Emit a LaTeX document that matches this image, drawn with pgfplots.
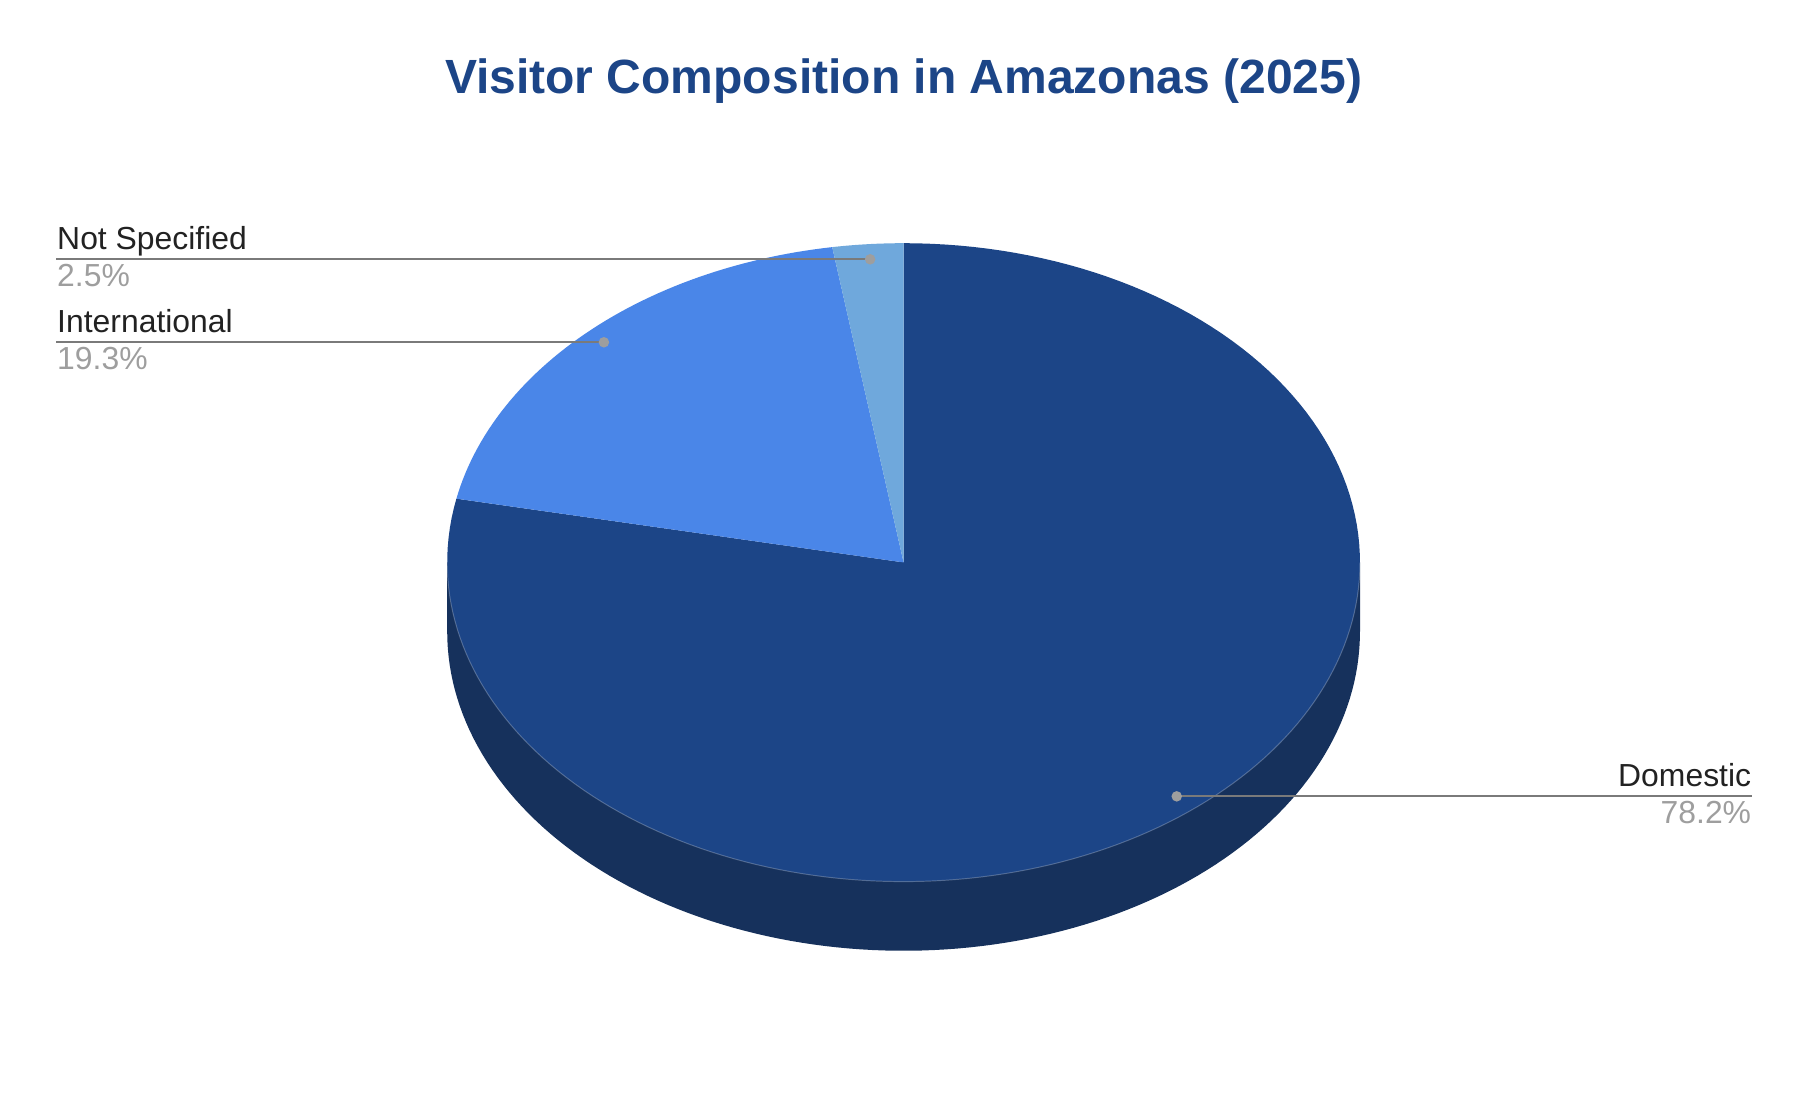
\documentclass[border=0pt]{standalone}
\usepackage{pgfplots}
\pgfplotsset{compat=1.18}
\usepackage{fontspec}
\setmainfont{Liberation Sans}

\definecolor{domtop}{HTML}{1C4587}
\definecolor{domside}{HTML}{16315C}
\definecolor{intl}{HTML}{4A86E8}
\definecolor{notsp}{HTML}{6FA8DC}
\definecolor{titlec}{HTML}{1C4587}
\definecolor{leader}{HTML}{7A7A7A}
\definecolor{pctc}{HTML}{9E9E9E}
\definecolor{labc}{HTML}{222222}

% shares in percent
\def\vDom{78.2}
\def\vInt{19.3}
\def\vNot{2.5}

\begin{document}
\begin{tikzpicture}[
    lbl/.style={font=\fontsize{8.3}{10}\selectfont, text=labc, inner sep=0pt},
    pct/.style={font=\fontsize{8.3}{10}\selectfont, text=pctc, inner sep=0pt},
]
\pgfmathsetmacro\aA{3.6*\vDom}
\pgfmathsetmacro\aB{3.6*(\vDom+\vInt)}
\pgfmathsetmacro\aC{3.6*(\vDom+\vInt+\vNot)}
\begin{axis}[
    scale only axis,
    width=470.1pt, height=288.4pt,
    xmin=0, xmax=1567, ymin=0, ymax=961.4,
    y dir=reverse,
    hide axis,
    clip=false,
]
\path (rel axis cs:0,0) rectangle (rel axis cs:1,1);

% side wall (front half, all Domestic)
\addplot[fill=domside, draw=none, domain=90:270, samples=120]
    ({784+396*sin(x)},{548-277*cos(x)}) -- (axis cs:388,488) -- (axis cs:1180,488) -- cycle;

% top faces
\addplot[fill=domtop, draw=none, domain=0:\aA, samples=160]
    ({784+396*sin(x)},{488-277*cos(x)}) -- (axis cs:784,488) -- cycle;
\addplot[fill=intl, draw=none, domain=\aA:\aB, samples=60]
    ({784+396*sin(x)},{488-277*cos(x)}) -- (axis cs:784,488) -- cycle;
\addplot[fill=notsp, draw=none, domain=\aB:\aC, samples=20]
    ({784+396*sin(x)},{488-277*cos(x)}) -- (axis cs:784,488) -- cycle;

% faint rim between top and wall
\addplot[draw=white, draw opacity=0.25, line width=0.25pt, domain=90:270, samples=120]
    ({784+396*sin(x)},{488-277*cos(x)});

% leaders
\addplot[leader, line width=0.5pt, mark=*, mark indices={1},
    mark options={fill=pctc, draw=pctc, scale=0.55}]
    coordinates {(755,225) (49,225)};
\addplot[leader, line width=0.5pt, mark=*, mark indices={1},
    mark options={fill=pctc, draw=pctc, scale=0.55}]
    coordinates {(524,297) (49,297)};
\addplot[leader, line width=0.5pt, mark=*, mark indices={1},
    mark options={fill=pctc, draw=pctc, scale=0.55}]
    coordinates {(1021,691) (1520,691)};

% labels
\node[lbl, anchor=base west] at (axis cs:49,216.5) {Not Specified};
\node[pct, anchor=base west] at (axis cs:49,248.5) {2.5\%};
\node[lbl, anchor=base west] at (axis cs:49,288.5) {International};
\node[pct, anchor=base west] at (axis cs:49,320.5) {19.3\%};
\node[lbl, anchor=base east] at (axis cs:1520,682.5) {Domestic};
\node[pct, anchor=base east] at (axis cs:1520,714.5) {78.2\%};

% title
\node[anchor=base, inner sep=0pt, text=titlec,
    font=\fontsize{12.5}{15}\selectfont\bfseries] at (axis cs:784,81) {Visitor Composition in Amazonas (2025)};
\end{axis}
\end{tikzpicture}
\end{document}
